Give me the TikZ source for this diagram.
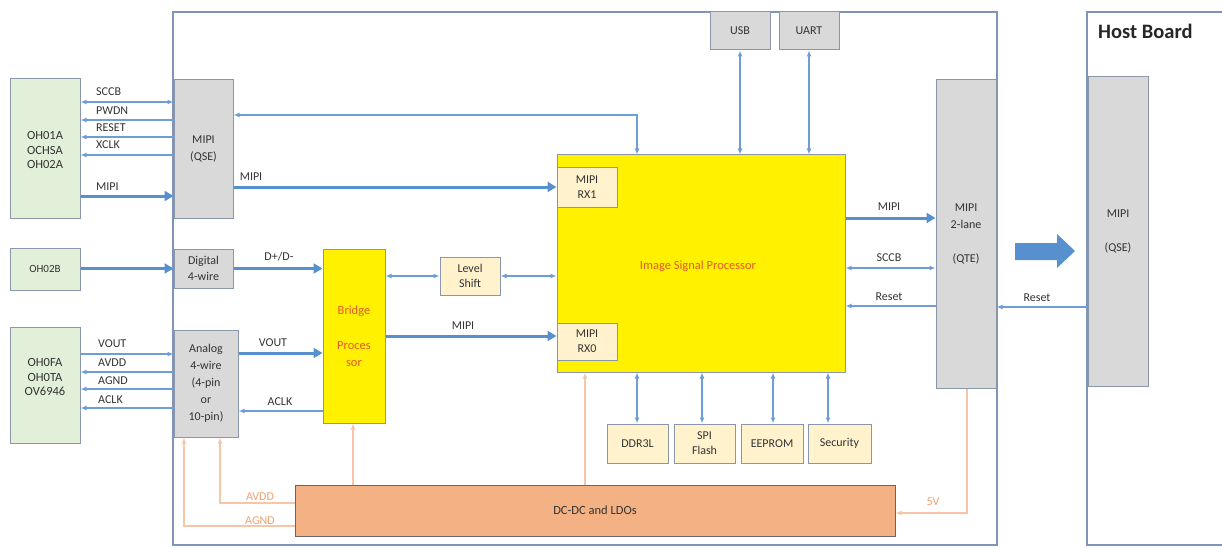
\documentclass[tikz,border=0pt]{standalone}
\usepackage{fontspec}
\setmainfont{Carlito}
\usetikzlibrary{arrows.meta,calc}
\definecolor{txt}{HTML}{333333}
\definecolor{bord}{HTML}{7F95B8}
\definecolor{boxline}{HTML}{8A97AA}
\definecolor{grayfill}{HTML}{D9D9D9}
\definecolor{creamfill}{HTML}{FFF2CC}
\definecolor{greenfill}{HTML}{E2F0D9}
\definecolor{yel}{HTML}{FFF100}
\definecolor{orfill}{HTML}{F4B183}
\definecolor{orline}{HTML}{F6C6A6}
\definecolor{ortext}{HTML}{F0A070}
\definecolor{thinblue}{HTML}{6F9DD6}
\definecolor{thickblue}{HTML}{5690CF}
\definecolor{redtext}{HTML}{E45A2A}
\tikzset{
  every node/.style={font=\fontsize{12}{17}\selectfont, text=txt, align=center, inner sep=0pt},
  blk/.style={draw=boxline, line width=1pt},
  graybox/.style={blk, fill=grayfill},
  creambox/.style={blk, fill=creamfill},
  greenbox/.style={blk, fill=greenfill},
  yelbox/.style={blk, fill=yel},
  orbox/.style={blk, fill=orfill, draw=gray!80!black},
  thin/.style={draw=thinblue, line width=1.3pt, -{Latex[length=6pt,width=5pt]}},
  dbl/.style={draw=thinblue, line width=1.3pt, {Latex[length=6pt,width=5pt]}-{Latex[length=6pt,width=5pt]}},
  thick/.style={draw=thickblue, line width=3pt, -{Triangle[length=9pt,width=10pt]}},
  org/.style={draw=orline, line width=1.2pt, -{Latex[length=6pt,width=5pt]}},
  lbl/.style={font=\fontsize{12}{13}\selectfont},
  olbl/.style={font=\fontsize{12}{13}\selectfont, text=ortext},
  sens/.style={font=\fontsize{12.5}{14.5}\selectfont},
}
\begin{document}
\begin{tikzpicture}[x=1pt,y=-1pt]
\useasboundingbox (0,0) rectangle (1222,548);
\begin{scope}
\clip (0,0) rectangle (1222,548);
% boards
\draw[draw=bord, line width=1.8pt] (173,12) rectangle (997,545);
\draw[draw=bord, line width=1.8pt] (1087,12) rectangle (1240,545);
\end{scope}
\node[font=\fontsize{20.5}{21}\selectfont\bfseries, text=black!85, anchor=west] (hb) at (1098,31) {Host Board};

% sensors
\node[greenbox, minimum width=70, minimum height=139] (s1) at (45,148.5) {};
\node[sens] (s1t) at (45,150) {OH01A\\OCHSA\\OH02A};
\node[greenbox, minimum width=70, minimum height=42] (s2) at (45,269) {};
\node[font=\fontsize{11}{12}\selectfont] (s2t) at (45,269) {OH02B};
\node[greenbox, minimum width=70, minimum height=116] (s3) at (45,385) {};
\node[sens] (s3t) at (45,377) {OH0FA\\OH0TA\\OV6946};

% interface boxes
\node[graybox, minimum width=59, minimum height=138] (qse) at (203.5,149) {MIPI\\(QSE)};
\node[graybox, minimum width=59, minimum height=39] (dig) at (203.5,268.5) {Digital\\[-1pt]4-wire};
\node[graybox, minimum width=64, minimum height=107] (ana) at (206,383.5) {Analog\\4-wire\\(4-pin\\or\\10-pin)};

% bridge & level shift
\node[yelbox, minimum width=62, minimum height=174] (bridge) at (354,336) {};
\node[text=redtext, font=\fontsize{12.5}{17.5}\selectfont] (bt) at (354,336) {Bridge\\\\Proces\\sor};
\node[creambox, minimum width=60, minimum height=38] (lvl) at (470,276) {Level\\[-2pt]Shift};

% ISP
\node[yelbox, minimum width=288, minimum height=217] (isp) at (701,263.5) {};
\node[text=redtext, font=\fontsize{12.5}{14}\selectfont] (ispt) at (698,266) {Image Signal Processor};
\node[creambox, minimum width=60, minimum height=39] (rx1) at (587,187.5) {MIPI\\[-2pt]RX1};
\node[creambox, minimum width=60, minimum height=37] (rx0) at (587,341.5) {MIPI\\[-2pt]RX0};

% USB UART
\node[graybox, minimum width=60, minimum height=38] (usb) at (740,31) {USB};
\node[graybox, minimum width=60, minimum height=38] (uart) at (809,31) {UART};

% peripherals
\node[creambox, minimum width=61, minimum height=39] (ddr) at (637.5,443.5) {DDR3L};
\node[creambox, minimum width=61, minimum height=39] (spi) at (704.5,443.5) {SPI\\[-2pt]Flash};
\node[creambox, minimum width=62, minimum height=39] (eep) at (772,443.5) {EEPROM};
\node[creambox, minimum width=63, minimum height=39] (sec) at (839.5,443.5) {Security};

% DC-DC
\node[orbox, minimum width=600, minimum height=51, font=\fontsize{12.5}{14}\selectfont] (dcdc) at (595,510.5) {DC-DC and LDOs};

% QTE and host
\node[graybox, minimum width=60, minimum height=308] (qte) at (966,234) {MIPI\\2-lane\\\\(QTE)};
\node[graybox, minimum width=60, minimum height=309] (hqse) at (1118,231.5) {MIPI\\\\(QSE)};
\fill[thickblue] (1015,243) -- (1057,243) -- (1057,234) -- (1075,251) -- (1057,268) -- (1057,260) -- (1015,260) -- cycle;

% sensor 1 signals
\coordinate (a1) at (0,102); \coordinate (a2) at (0,120); \coordinate (a3) at (0,137);
\coordinate (a4) at (0,155); \coordinate (a5) at (0,196);
\draw[dbl] (a1 -| s1.east) -- (a1 -| qse.west);
\draw[thin] (a2 -| qse.west) -- (a2 -| s1.east);
\draw[thin] (a3 -| qse.west) -- (a3 -| s1.east);
\draw[thin] (a4 -| qse.west) -- (a4 -| s1.east);
\draw[thick] (a5 -| s1.east) -- (a5 -| qse.west);
\node[lbl, anchor=west] at (96,92) {SCCB};
\node[lbl, anchor=west] at (96,111) {PWDN};
\node[lbl, anchor=west] at (96,127.5) {RESET};
\node[lbl, anchor=west] at (96,145) {XCLK};
\node[lbl, anchor=west] at (96,187) {MIPI};

% sensor 2
\draw[thick] (s2.east |- dig.west) -- (dig.west);

% sensor 3 signals
\coordinate (b1) at (0,354); \coordinate (b2) at (0,372); \coordinate (b3) at (0,389); \coordinate (b4) at (0,408);
\draw[thin] (b1 -| s3.east) -- (b1 -| ana.west);
\draw[thin] (b2 -| ana.west) -- (b2 -| s3.east);
\draw[thin] (b3 -| ana.west) -- (b3 -| s3.east);
\draw[thin] (b4 -| ana.west) -- (b4 -| s3.east);
\node[lbl, anchor=west] at (98,344) {VOUT};
\node[lbl, anchor=west] at (98,363) {AVDD};
\node[lbl, anchor=west] at (98,381) {AGND};
\node[lbl, anchor=west] at (98,400) {ACLK};

% interface to bridge / ISP
\coordinate (c1) at (0,187);
\draw[thick] (c1 -| qse.east) -- (c1 -| rx1.west);
\node[lbl] at (251,177) {MIPI};
\draw[thick] (dig.east) -- (dig.east -| bridge.west);
\node[lbl] at (279,257) {D+/D-};
\coordinate (c2) at (0,353); \coordinate (c3) at (0,411);
\draw[thick] (c2 -| ana.east) -- (c2 -| bridge.west);
\node[lbl] at (273,343) {VOUT};
\draw[thin] (c3 -| bridge.west) -- (c3 -| ana.east);
\node[lbl] at (280,402) {ACLK};
\draw[dbl] (lvl.west -| bridge.east) -- (lvl.west);
\draw[dbl] (lvl.east) -- (lvl.east -| isp.west);
\coordinate (c4) at (0,336);
\draw[thick] (c4 -| bridge.east) -- (c4 -| rx0.west);
\node[lbl] at (463,326) {MIPI};

% QSE to ISP control
\coordinate (q1) at (637,115);
\draw[dbl] (q1 -| qse.east) -- (q1) -- (q1 |- isp.north);

% USB UART
\draw[dbl] (usb.south) -- (usb.south |- isp.north);
\draw[dbl] (uart.south) -- (uart.south |- isp.north);

% peripherals
\coordinate (p1) at (637,0); \coordinate (p2) at (702,0); \coordinate (p3) at (773,0); \coordinate (p4) at (828,0);
\draw[dbl] (p1 |- isp.south) -- (p1 |- ddr.north);
\draw[dbl] (p2 |- isp.south) -- (p2 |- spi.north);
\draw[dbl] (p3 |- isp.south) -- (p3 |- eep.north);
\draw[dbl] (p4 |- isp.south) -- (p4 |- sec.north);

% ISP to QTE
\coordinate (d1) at (0,218); \coordinate (d2) at (0,268); \coordinate (d3) at (0,306);
\draw[thick] (d1 -| isp.east) -- (d1 -| qte.west);
\node[lbl] at (889,207) {MIPI};
\draw[dbl] (d2 -| isp.east) -- (d2 -| qte.west);
\node[lbl] at (889,258) {SCCB};
\draw[thin] (d3 -| qte.west) -- (d3 -| isp.east);
\node[lbl] at (889,297) {Reset};
\coordinate (d4) at (0,307);
\draw[thin] (d4 -| hqse.west) -- (d4 -| qte.east);
\node[lbl] at (1037,298) {Reset};

% power
\coordinate (o1) at (184,526); \coordinate (o2) at (220,503);
\draw[org] (o1 -| dcdc.west) -- (o1) -- (o1 |- ana.south);
\draw[org] (o2 -| dcdc.west) -- (o2) -- (o2 |- ana.south);
\node[olbl] at (260,497) {AVDD};
\node[olbl] at (260,521) {AGND};
\coordinate (o3) at (353,0);
\draw[org] (o3 |- dcdc.north) -- (o3 |- bridge.south);
\coordinate (o4) at (585,0);
\draw[org] (o4 |- dcdc.north) -- (o4 |- isp.south);
\coordinate (o5) at (967,513);
\draw[org] (o5 |- qte.south) -- (o5) -- (o5 -| dcdc.east);
\node[olbl] at (933,502) {5V};
\end{tikzpicture}
\end{document}
